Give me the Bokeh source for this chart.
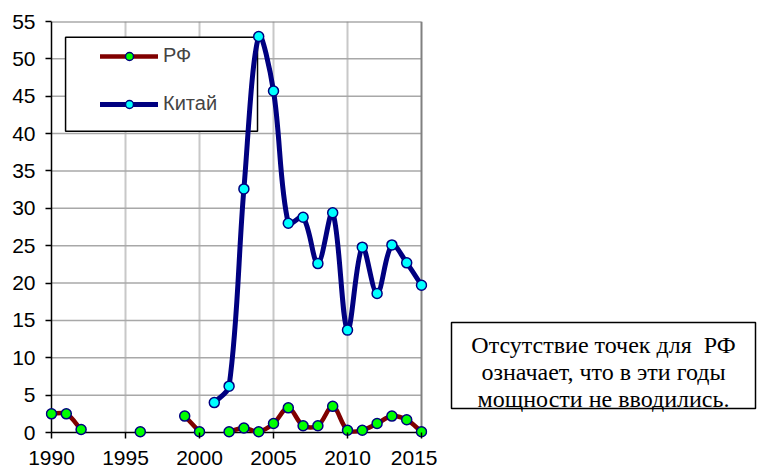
import math
from bokeh.plotting import figure
from bokeh.layouts import row
from bokeh.models import Range1d, Legend, LegendItem
from bokeh.core.properties import value
from bokeh.embed import file_html
from bokeh.resources import INLINE

# ---- data ----
years = list(range(1990, 2016))
nan = float("nan")
rf = [2.5, 2.5, 0.4, nan, nan, nan, 0.1, nan, nan, 2.2, 0.1, nan, 0.1, 0.6, 0.1,
      1.2, 3.3, 0.9, 0.9, 3.5, 0.3, 0.3, 1.2, 2.2, 1.7, 0.1]
china = [nan, nan, nan, nan, nan, nan, nan, nan, nan, nan, nan, 4.0, 6.2, 32.6, 53.0,
         45.7, 28.0, 28.8, 22.6, 29.4, 13.7, 24.8, 18.6, 25.1, 22.7, 19.7]
x_ticks = [1990, 1995, 2000, 2005, 2010, 2015]
y_ticks = list(range(0, 56, 5))
labels = ["РФ", "Китай"]
note_lines = ["Отсутствие точек для\u00a0 РФ", "означает, что в эти годы", "мощности не вводились."]

X0, X1, Y0, Y1 = 1990, 2015, 0, 55

# ---- layout ----
FW, FH = 382, 417
TOP, BOT, LEFT, RIGHT = 21, 36, 45, 10
PAD = 6
SX = (FW - 2 * PAD) / (X1 - X0)   # px per year
SY = (FH - PAD) / (Y1 - Y0)       # px per unit
xpad = PAD / SX
ypad = PAD / SY

p = figure(frame_width=FW, frame_height=FH, min_border_left=LEFT, min_border_right=RIGHT,
           min_border_top=TOP, min_border_bottom=BOT,
           x_range=Range1d(X0 - xpad, X1 + xpad), y_range=Range1d(Y0 - ypad, Y1),
           output_backend="svg", toolbar_location=None, tools="")
p.outline_line_color = None
p.grid.visible = False
p.background_fill_color = "white"
p.border_fill_color = "white"

for ax, ticks in ((p.xaxis, x_ticks), (p.yaxis, y_ticks)):
    ax.ticker = ticks
    ax.axis_line_color = None
    ax.major_tick_in = PAD
    ax.major_tick_out = 0
    ax.major_tick_line_color = "black"
    ax.major_tick_line_width = 1.5
    ax.minor_tick_line_color = None
    ax.major_label_text_font = "Liberation Sans"
    ax.major_label_text_font_size = "21px"
    ax.major_label_text_color = "black"
p.xaxis.major_label_standoff = 12
p.yaxis.major_label_standoff = 10

# grid lines
vx = [t for t in x_ticks if X0 < t < X1]
p.segment(x0=vx, y0=[Y0] * len(vx), x1=vx, y1=[Y1] * len(vx), line_color="#c8c8c8", line_width=2)
hy = [t for t in y_ticks if Y0 < t < Y1]
p.segment(x0=[X0] * len(hy), y0=hy, x1=[X1] * len(hy), y1=hy, line_color="#a8a8a8", line_width=1.5)
# plot border (top, right)
p.segment(x0=[X0, X1], y0=[Y1, Y0], x1=[X1, X1], y1=[Y1, Y1], line_color="#808080", line_width=2)
# axis lines
p.segment(x0=[X0, X0], y0=[Y0, Y0], x1=[X1, X0], y1=[Y0, Y1], line_color="black", line_width=1.5)

# legend frame (data-space placement)
p.quad(left=[1990.95], right=[2003.92], bottom=[40.3], top=[52.9],
       fill_color="white", line_color="black", line_width=1.5)


def smooth(xs, ys):
    """Excel-like smoothed curve: Bezier segments with chord-length scaled tangents."""
    runs, cur = [], []
    for x, y in zip(xs, ys):
        if y is None or (isinstance(y, float) and math.isnan(y)):
            if cur:
                runs.append(cur)
            cur = []
        else:
            cur.append((x, y))
    if cur:
        runs.append(cur)

    def dist(a, b):
        return math.hypot((b[0] - a[0]) * SX, (b[1] - a[1]) * SY)

    out = dict(x0=[], y0=[], x1=[], y1=[], cx0=[], cy0=[], cx1=[], cy1=[])
    for run in runs:
        n = len(run)
        for i in range(n - 1):
            a = run[i - 1] if i > 0 else run[i]
            b = run[i]
            c = run[i + 1]
            d = run[i + 2] if i + 2 < n else run[i + 1]
            dab, dbc, dcd = dist(a, b), dist(b, c), dist(c, d)
            f0 = dbc / (dab + dbc) / 3 if dab + dbc > 0 else 0
            f1 = dbc / (dbc + dcd) / 3 if dbc + dcd > 0 else 0
            out["x0"].append(b[0]); out["y0"].append(b[1])
            out["x1"].append(c[0]); out["y1"].append(c[1])
            out["cx0"].append(b[0] + (c[0] - a[0]) * f0); out["cy0"].append(b[1] + (c[1] - a[1]) * f0)
            out["cx1"].append(c[0] - (d[0] - b[0]) * f1); out["cy1"].append(c[1] - (d[1] - b[1]) * f1)
    return out


series = [(rf, "#800000", "#00ff00", 4.5), (china, "#000080", "#00ffff", 5)]
items = []
for (vals, lc, fc, lw), lab in zip(series, labels):
    seg = smooth(years, vals)
    p.bezier(line_color=lc, line_width=lw, line_cap="round", **seg)
    xs = [x for x, v in zip(years, vals) if not math.isnan(v)]
    ys = [v for v in vals if not math.isnan(v)]
    pts = p.scatter(xs, ys, size=10, fill_color=fc, line_color="#000080", line_width=1.5)
    ln = p.line(x=[nan], y=[nan], line_color=lc, line_width=lw, line_cap="round")
    items.append(LegendItem(label=lab, renderers=[ln, pts]))

legend = Legend(items=items, location=(55, 323), padding=0, margin=0, spacing=25,
                glyph_width=58, glyph_height=20, label_standoff=5,
                label_text_font="Liberation Sans", label_text_font_size="20px",
                border_line_color=None, background_fill_alpha=0)
p.add_layout(legend)

# ---- note panel (coordinates = page pixels) ----
PW = LEFT + FW + RIGHT
NW = 758 - PW
q = figure(frame_width=NW, frame_height=FH, min_border_top=TOP, min_border_bottom=BOT,
           min_border_left=0, min_border_right=0,
           x_range=Range1d(PW, 758), y_range=Range1d(TOP + FH, TOP),
           x_axis_type=None, y_axis_type=None,
           output_backend="svg", toolbar_location=None, tools="")
q.outline_line_color = None
q.grid.visible = False
q.background_fill_color = "white"
q.border_fill_color = "white"
q.quad(left=[451], right=[755], top=[322], bottom=[408],
       fill_color="white", line_color="black", line_width=1.5)
q.text(x=[603] * 3, y=[344, 371, 398], text=note_lines, text_align="center",
       text_baseline="middle", text_font=value("Liberation Serif"),
       text_font_size="24px", text_color="black")

layout = row(p, q, spacing=0)
open("out.html", "w").write(file_html(layout, INLINE))
